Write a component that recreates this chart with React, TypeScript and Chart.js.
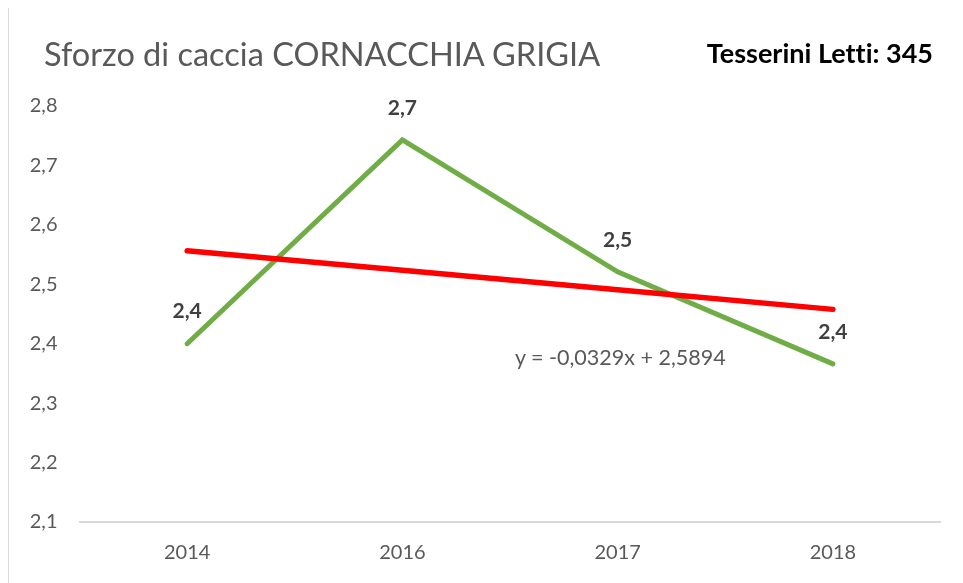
import React, { useEffect, useRef } from "react";
import { Chart, registerables } from "chart.js";

Chart.register(...registerables);

const categories: string[] = ["2014", "2016", "2017", "2018"];
const effortValues: number[] = [2.4, 2.743, 2.521, 2.366];
const trendValues: number[] = [2.5565, 2.5236, 2.4907, 2.4578];
const yMin = 2.1;
const yMax = 2.8;
const yStep = 0.1;
const titleText = "Sforzo di caccia CORNACCHIA GRIGIA";
const noteText = "Tesserini Letti: 345";
const equationText = "y = -0,0329x + 2,5894";

const FONT = "Lato, 'Open Sans', sans-serif";
const fmt = (v: number) => v.toFixed(1).replace(".", ",");

const dataLabelPlugin = {
  id: "dataLabels",
  afterDatasetsDraw(chart: any) {
    const ctx = chart.ctx;
    const ds = chart.data.datasets;
    const idx = ds.findIndex((d: any) => d.label === "Sforzo");
    if (idx < 0) return;
    const meta = chart.getDatasetMeta(idx);
    ctx.save();
    ctx.font = `bold 21px ${FONT}`;
    ctx.fillStyle = "#404040";
    ctx.textAlign = "center";
    ctx.textBaseline = "middle";
    meta.data.forEach((pt: any, i: number) => {
      ctx.fillText(fmt(ds[idx].data[i]), pt.x, pt.y - 32);
    });
    ctx.restore();
  },
};

export default function App() {
  const ref = useRef<HTMLCanvasElement | null>(null);

  useEffect(() => {
    if (!ref.current) return;
    const chart = new Chart(ref.current, {
      type: "line",
      data: {
        labels: categories,
        datasets: [
          {
            label: "Sforzo",
            data: effortValues,
            borderColor: "#70AD47",
            borderWidth: 5,
            pointRadius: 0,
            borderCapStyle: "round",
            tension: 0,
            order: 1,
          },
          {
            label: "Trend",
            data: trendValues,
            borderColor: "#FF0000",
            borderWidth: 5.5,
            pointRadius: 0,
            borderCapStyle: "round",
            tension: 0,
            order: 0,
          },
        ],
      },
      options: {
        responsive: false,
        animation: false,
        devicePixelRatio: 1,
        layout: { padding: { top: 98, right: 22.5, left: 0, bottom: 0 } },
        plugins: {
          legend: { display: false },
          tooltip: { enabled: false },
          title: { display: false },
        },
        scales: {
          x: {
            offset: true,
            grid: { display: false, drawTicks: false },
            border: { display: true, color: "#D9D9D9", width: 2 },
            ticks: {
              color: "#595959",
              font: { family: FONT, size: 20 },
              padding: 19,
            },
            afterFit: (scale: any) => {
              scale.height = 61;
            },
          },
          y: {
            min: yMin,
            max: yMax,
            grid: { display: false, drawTicks: false },
            border: { display: false },
            ticks: {
              stepSize: yStep,
              color: "#595959",
              font: { family: FONT, size: 20 },
              padding: 22,
              callback: (v: any) => fmt(Number(v)),
            },
            afterFit: (scale: any) => {
              scale.width = 70.5;
            },
          },
        },
      },
      plugins: [dataLabelPlugin],
    } as any);
    return () => chart.destroy();
  }, []);

  return (
    <div
      style={{
        position: "relative",
        width: 954,
        height: 575,
        marginTop: -1,
        borderTop: "1px solid #D9D9D9",
        borderLeft: "1px solid #D9D9D9",
        overflow: "hidden",
        background: "#fff",
      }}
    >
      <canvas ref={ref} width={954} height={575} style={{ display: "block" }} />
      <div
        style={{
          position: "absolute",
          left: 35,
          top: 30,
          fontFamily: FONT,
          fontSize: 32.5,
          lineHeight: 1,
          color: "#595959",
          whiteSpace: "nowrap",
          fontVariantLigatures: "none",
        }}
      >
        {titleText}
      </div>
      <div
        style={{
          position: "absolute",
          right: 30,
          top: 31,
          fontFamily: FONT,
          fontSize: 27,
          fontWeight: 700,
          lineHeight: 1,
          color: "#000",
          whiteSpace: "nowrap",
          fontVariantLigatures: "none",
          fontFeatureSettings: '"liga" 0, "clig" 0',
        }}
      >
        {noteText}
      </div>
      <div
        style={{
          position: "absolute",
          left: 506,
          top: 339,
          fontFamily: FONT,
          fontSize: 21.5,
          lineHeight: 1,
          color: "#595959",
          whiteSpace: "nowrap",
        }}
      >
        {equationText}
      </div>
    </div>
  );
}
